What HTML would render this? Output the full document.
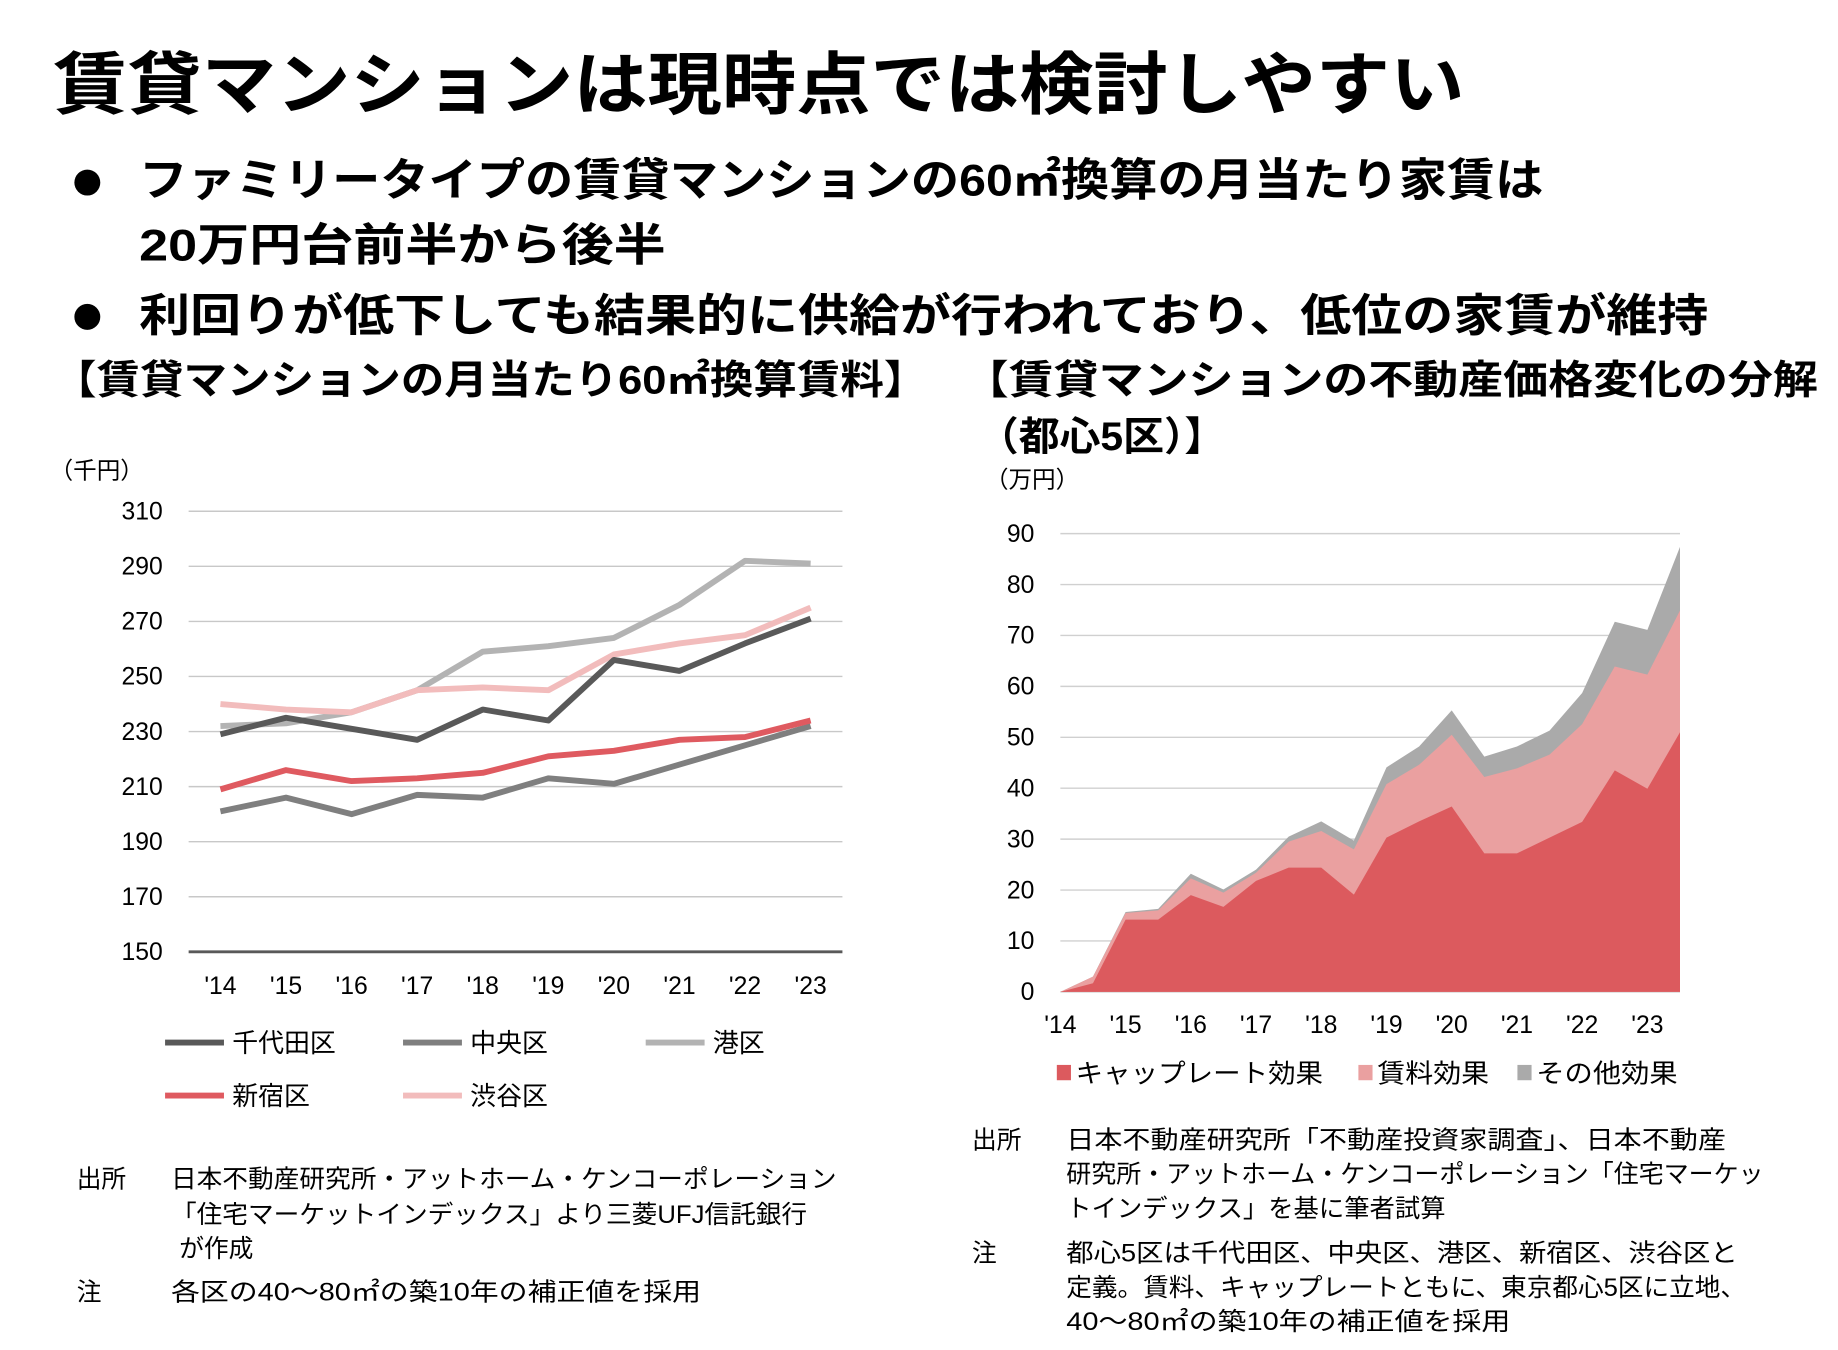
<!DOCTYPE html>
<html><head><meta charset="utf-8"><style>
html,body{margin:0;padding:0;background:#fff;}
svg{display:block;}
text{font-family:"Liberation Sans","Noto Sans CJK JP",sans-serif;fill:#000;}
.b{font-weight:bold;}
.t{font-size:20px;}
.n{font-size:21px;}
</style></head><body>
<svg id="root" width="1838" height="1350" viewBox="0 0 1560 1146" xmlns="http://www.w3.org/2000/svg">
<text x="45" y="92" class="b" font-size="58" textLength="1198" lengthAdjust="spacingAndGlyphs">賃貸マンションは現時点では検討しやすい</text>
<circle cx="74" cy="155" r="11" fill="#000"/>
<text x="118" y="166" class="b" font-size="38" textLength="1192" lengthAdjust="spacingAndGlyphs">ファミリータイプの賃貸マンションの60㎡換算の月当たり家賃は</text>
<text x="118" y="221" class="b" font-size="38" textLength="447" lengthAdjust="spacingAndGlyphs">20万円台前半から後半</text>
<circle cx="74" cy="269" r="11" fill="#000"/>
<text x="118" y="281" class="b" font-size="38" textLength="1332" lengthAdjust="spacingAndGlyphs">利回りが低下しても結果的に供給が行われており、低位の家賃が維持</text>
<text x="45" y="334" class="b" font-size="34" textLength="742" lengthAdjust="spacingAndGlyphs">【賃貸マンションの月当たり60㎡換算賃料】</text>
<text x="818" y="334" class="b" font-size="34" textLength="725" lengthAdjust="spacingAndGlyphs">【賃貸マンションの不動産価格変化の分解</text>
<text x="830" y="382" class="b" font-size="34" textLength="210" lengthAdjust="spacingAndGlyphs">（都心5区）】</text>
<text x="42" y="406" class="t">（千円）</text>
<text x="836" y="414" class="t">（万円）</text>
<g id="left"></g>
<g id="right"></g>
<g>
<text x="65" y="1008" class="n">出所</text>
<text x="145" y="1008" class="n" textLength="565" lengthAdjust="spacingAndGlyphs">日本不動産研究所・アットホーム・ケンコーポレーション</text>
<text x="145" y="1038" class="n" textLength="540" lengthAdjust="spacingAndGlyphs">「住宅マーケットインデックス」より三菱UFJ信託銀行</text>
<text x="152" y="1067" class="n">が作成</text>
<text x="65" y="1104" class="n">注</text>
<text x="145" y="1104" class="n" textLength="450" lengthAdjust="spacingAndGlyphs">各区の40～80㎡の築10年の補正値を採用</text>
</g>
<g>
<text x="825" y="975" class="n">出所</text>
<text x="905" y="975" class="n" textLength="560" lengthAdjust="spacingAndGlyphs">日本不動産研究所「不動産投資家調査」、日本不動産</text>
<text x="905" y="1004" class="n" textLength="592" lengthAdjust="spacingAndGlyphs">研究所・アットホーム・ケンコーポレーション「住宅マーケッ</text>
<text x="905" y="1033" class="n" textLength="322" lengthAdjust="spacingAndGlyphs">トインデックス」を基に筆者試算</text>
<text x="825" y="1071" class="n">注</text>
<text x="905" y="1071" class="n" textLength="570" lengthAdjust="spacingAndGlyphs">都心5区は千代田区、中央区、港区、新宿区、渋谷区と</text>
<text x="905" y="1100" class="n" textLength="577" lengthAdjust="spacingAndGlyphs">定義。賃料、キャップレートともに、東京都心5区に立地、</text>
<text x="905" y="1129" class="n" textLength="377" lengthAdjust="spacingAndGlyphs">40～80㎡の築10年の補正値を採用</text>
</g>
</svg>
<script>
const NS="http://www.w3.org/2000/svg";
// Left chart data
const years=["'14","'15","'16","'17","'18","'19","'20","'21","'22","'23"];
const yTicksL=[150,170,190,210,230,250,270,290,310];
const chiyoda=[229,235,231,227,238,234,256,252,262,271];
const chuo=[201,206,200,207,206,213,211,218,225,232];
const minato=[232,233,237,245,259,261,264,276,292,291];
const shinjuku=[209,216,212,213,215,221,223,227,228,234];
const shibuya=[240,238,237,245,246,245,258,262,265,275];
const seriesNames=["千代田区","中央区","港区","新宿区","渋谷区"];
// Right chart data (half-year steps, 2014.0 - 2023.5)
const yTicksR=[0,10,20,30,40,50,60,70,80,90];
const capRate=[0,1.7,14.2,14.2,19,16.7,21.8,24.4,24.4,19.1,30.3,33.5,36.4,27.2,27.2,30.3,33.4,43.5,39.9,51];
const rentEff=[0,1.3,1.3,1.8,3.3,2.8,1.6,5.1,7.2,8.9,10.5,11.1,14.1,15,16.7,16.3,19.2,20.4,22.4,23.9];
const otherEff=[0,0,0.2,0.3,0.9,0.6,0.6,1,1.9,1.7,3.3,3.6,4.8,4,4.3,4.7,6.1,8.8,8.8,12.5];
const areaNames=["キャップレート効果","賃料効果","その他効果"];

function mk(tag,attrs,parent,txt){const e=document.createElementNS(NS,tag);for(const k in attrs)e.setAttribute(k,attrs[k]);if(txt!==undefined)e.textContent=txt;parent.appendChild(e);return e;}

// LEFT
const L=document.getElementById('left');
const lx=i=>187+i*(688-187)/9;
const ly=v=>808-(v-150)*(808-434)/160;
yTicksL.forEach(v=>{
  const g=mk('line',{x1:160,x2:715,y1:ly(v),y2:ly(v),stroke:v===150?'#595959':'#c8c8c8','stroke-width':v===150?2.5:1.2},L);
  
  
  const t=mk('text',{x:138,y:ly(v)+7,'text-anchor':'end','font-size':21},L,String(v));
  
  
});
years.forEach((y,i)=>{
  const t=mk('text',{x:lx(i),y:844,'text-anchor':'middle','font-size':21},L,y);
  
  
});
const lcolors=['#595959','#7f7f7f','#b3b3b3','#df5a60','#f2bcbc'];
const ldata=[chiyoda,chuo,minato,shinjuku,shibuya];
const lorder=[2,4,1,0,3];
lorder.forEach(k=>{
  const p=mk('polyline',{points:ldata[k].map((v,i)=>lx(i)+','+ly(v)).join(' '),fill:'none',stroke:lcolors[k],'stroke-width':5,'stroke-linejoin':'round'},L);
  
  
});
const legPos=[[140,885],[342,885],[548,885],[140,930],[342,930]];
seriesNames.forEach((n,k)=>{
  const [x,y]=legPos[k];
  const l=mk('line',{x1:x,x2:x+50,y1:y,y2:y,stroke:lcolors[k],'stroke-width':5},L);
  
  
  const t=mk('text',{x:x+57,y:y+8,'font-size':22},L,n);
  
  
});

// RIGHT
const R=document.getElementById('right');
const rx=i=>900+i*(1426-900)/19;
const ry=v=>842-v*(842-453)/90;
yTicksR.forEach(v=>{
  const g=mk('line',{x1:900,x2:1426,y1:ry(v),y2:ry(v),stroke:'#d0d0d0','stroke-width':1.2},R);
  
  
  const t=mk('text',{x:878,y:ry(v)+7,'text-anchor':'end','font-size':21},R,String(v));
  
  
});
years.forEach((y,i)=>{
  const t=mk('text',{x:rx(i*2),y:877,'text-anchor':'middle','font-size':21},R,y);
  
  
});
const rcolors=['#dc5a5e','#eaa0a0','#aaaaaa'];
const s1=capRate, s2=capRate.map((v,i)=>v+rentEff[i]), s3=s2.map((v,i)=>v+otherEff[i]);
const stacks=[[null,s1],[s1,s2],[s2,s3]];
[2,1,0].forEach(k=>{
  const top=stacks[k][1];
  let pts=top.map((v,i)=>rx(i)+','+ry(v));
  pts.push(rx(top.length-1)+','+ry(0));pts.push(rx(0)+','+ry(0));
  const p=mk('polygon',{points:pts.join(' '),fill:rcolors[k]},R);
  
  
});
const rleg=[897,1153,1288];
const rlegW=[210,95,120];
areaNames.forEach((n,k)=>{
  const r=mk('rect',{x:rleg[k],y:904,width:12,height:13,fill:rcolors[k]},R);
  
  
  const t=mk('text',{x:rleg[k]+16,y:919,'font-size':22,fill:'#333',textLength:rlegW[k],lengthAdjust:'spacingAndGlyphs'},R,n);
  
  
});
</script>
</body></html>
